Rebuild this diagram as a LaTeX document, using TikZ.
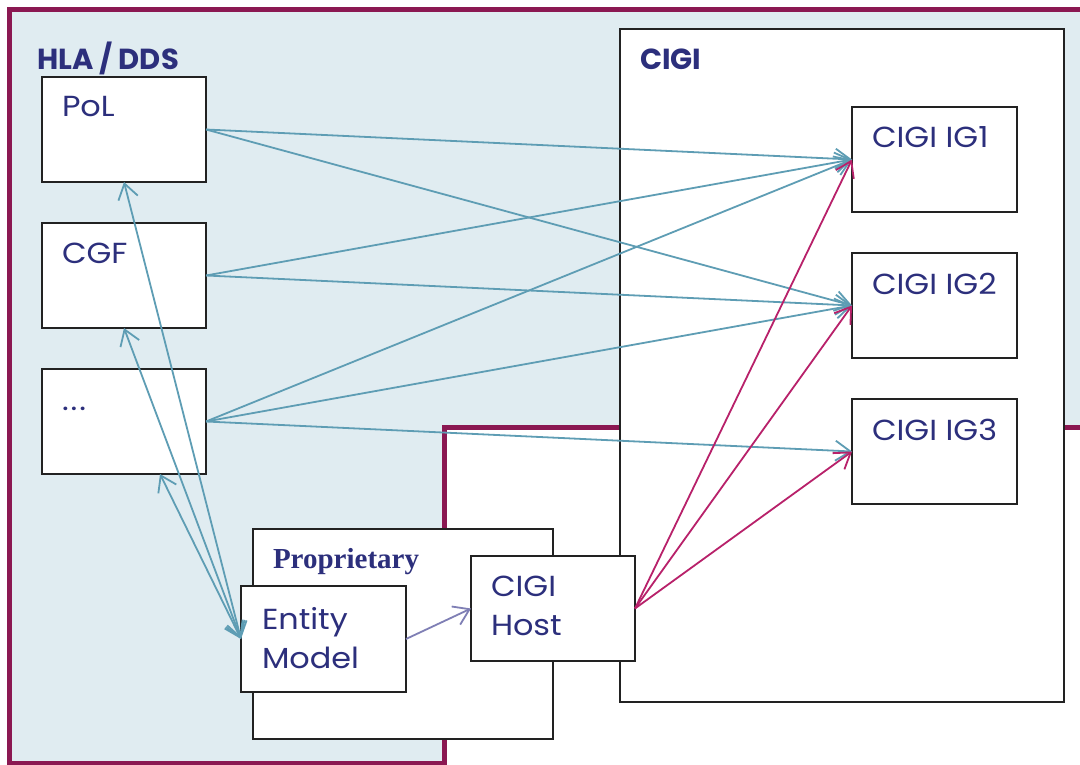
\documentclass[tikz,border=0pt]{standalone}
\usepackage{fontspec}
\setmainfont{Poppins}[FakeStretch=1.1]
\newfontfamily\titlefont{Poppins}
\newfontfamily\serifb{Liberation Serif}
\usetikzlibrary{arrows.meta,calc}
\definecolor{navy}{HTML}{2C2F7C}
\definecolor{hlafill}{HTML}{E0ECF1}
\definecolor{maroonline}{HTML}{8B1852}
\definecolor{flowblue}{HTML}{5E9DB4}
\definecolor{flowmag}{HTML}{B8216A}
\definecolor{flowpurple}{HTML}{7F7FB5}
\definecolor{boxline}{HTML}{222222}
\begin{document}
\begin{tikzpicture}[x=1pt,y=-1pt,
  box/.style={draw=boxline, line width=1.5pt, fill=white, inner sep=0pt, outer sep=0pt, anchor=north west},
  lbl/.style={text=navy, anchor=base west, inner sep=0pt, outer sep=0pt, font=\fontsize{29}{38.5}\selectfont},
  title/.style={lbl, font=\titlefont\fontsize{29}{38.5}\selectfont\bfseries},
  barb/.tip={Straight Barb[length=15pt,width=20pt]},
  blueflow/.style={draw=flowblue, line width=1.8pt, -barb},
  bothflow/.style={draw=flowblue, line width=1.8pt, barb-barb},
  magflow/.style={draw=flowmag, line width=1.8pt, -barb},
  purpleflow/.style={draw=flowpurple, line width=1.8pt, -barb},
]
\useasboundingbox (0,0) rectangle (1080,765);
\clip (0,0) rectangle (1080,765);

% HLA / DDS region
\draw[fill=hlafill, draw=maroonline, line width=5pt]
  (9.5,9.5) -- (1100,9.5) -- (1100,427) -- (444,427) -- (444,763) -- (9.5,763) -- cycle;

% boxes
\node[box, minimum width=444pt, minimum height=673pt] (cigi) at (620,29) {};
\node[box, minimum width=164pt, minimum height=105pt] (pol) at (42,77) {};
\node[box, minimum width=164pt, minimum height=105pt] (cgf) at (42,223) {};
\node[box, minimum width=164pt, minimum height=105pt] (dots) at (42,369) {};
\node[box, minimum width=165pt, minimum height=105pt] (ig1) at (852,107) {};
\node[box, minimum width=165pt, minimum height=105pt] (ig2) at (852,253) {};
\node[box, minimum width=165pt, minimum height=105pt] (ig3) at (852,399) {};
\node[box, minimum width=300pt, minimum height=210pt] (prop) at (253,529) {};
\node[box, minimum width=165pt, minimum height=106pt] (em) at (241,586) {};
\node[box, minimum width=164pt, minimum height=105pt] (host) at (471,556) {};

% connectors
\draw[blueflow] (pol.east) -- (ig1.west);
\draw[blueflow] (pol.east) -- (ig2.west);
\draw[blueflow] (cgf.east) -- (ig1.west);
\draw[blueflow] (cgf.east) -- (ig2.west);
\draw[blueflow] (dots.east) -- (ig1.west);
\draw[blueflow] (dots.east) -- (ig2.west);
\draw[blueflow] (dots.east) -- (ig3.west);
\draw[bothflow] (pol.south) -- (em.west);
\draw[bothflow] (cgf.south) -- (em.west);
\draw[bothflow] ([xshift=36pt]dots.south) -- (em.west);
\draw[magflow] (host.east) -- (ig1.west);
\draw[magflow] (host.east) -- (ig2.west);
\draw[magflow] (host.east) -- (ig3.west);
\draw[purpleflow] (em.east) -- (host.west);

% texts
\node[title] (hlat) at (37,70) {HLA / DDS};
\node[title] (cigit) at (640,70) {CIGI};
\node[lbl] (polt) at (62,117) {PoL};
\node[lbl] (cgft) at (62,263) {CGF};
\node[lbl] (dotst) at (62,410) {.\kern2pt.\kern2pt.};
\node[lbl] (ig1t) at (872,148) {CIGI IG1};
\node[lbl] (ig2t) at (872,294) {CIGI IG2};
\node[lbl] (ig3t) at (872,440) {CIGI IG3};
\node[lbl, font=\serifb\bfseries\fontsize{29}{36}\selectfont] (propt) at (273,568) {Proprietary};
\node[lbl, align=left] (emt) at (262,668) {Entity\\Model};
\node[lbl, align=left] (hostt) at (491,635) {CIGI\\Host};
\end{tikzpicture}
\end{document}
